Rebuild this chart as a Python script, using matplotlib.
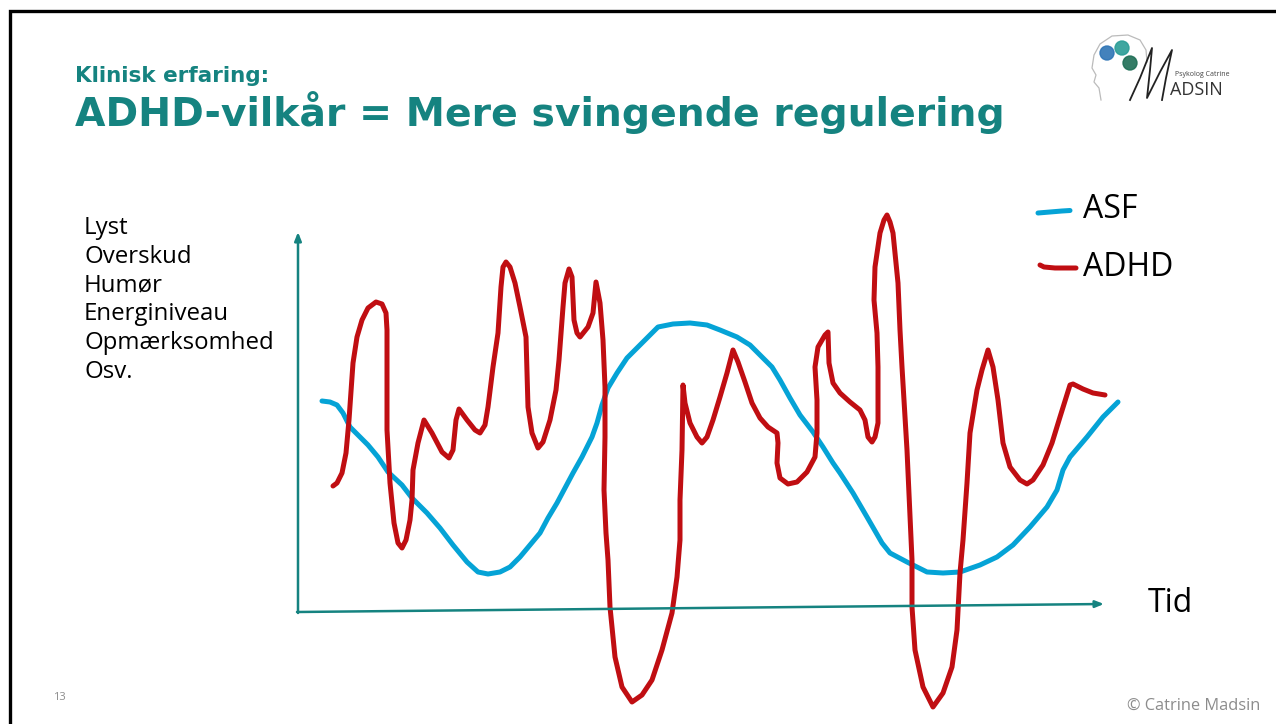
import matplotlib
matplotlib.use("Agg")
import matplotlib.pyplot as plt
from matplotlib.patches import Circle

# ---- data (hand-drawn curves; x = time, y = level (screen px)) ----
asf_x = [322, 330, 337, 343, 350, 360, 368, 378, 388, 402, 412, 427, 440, 453, 467, 478, 488, 500, 510, 520,
         530, 540, 548, 557, 565, 573, 582, 592, 597, 602, 608, 617, 627, 640, 658, 673, 690, 707, 720, 737,
         750, 760, 772, 780, 790, 800, 813, 823, 833, 840, 853, 867, 882, 890, 907, 917, 927, 943, 960, 980,
         997, 1013, 1030, 1047, 1057, 1063, 1070, 1087, 1103, 1118]
asf_y = [401, 402, 405, 413, 427, 437, 445, 457, 472, 485, 498, 513, 528, 545, 562, 572, 574, 572, 567, 557,
         545, 533, 518, 503, 488, 473, 457, 437, 423, 405, 388, 373, 358, 345, 327, 324, 323, 325, 330, 337,
         345, 355, 367, 380, 398, 415, 432, 447, 463, 473, 493, 517, 543, 553, 562, 567, 572, 573, 572, 565,
         557, 545, 527, 507, 490, 470, 457, 437, 417, 402]

adhd_x = [333, 337, 342, 346, 349, 353, 357, 362, 368, 376, 382, 386, 387, 387, 390, 394, 398, 402, 406, 410,
          412, 413, 418, 424, 432, 442, 449, 453, 456, 459, 467, 475, 480, 485, 488, 493, 498, 501, 503, 506,
          510, 515, 520, 526, 527, 528, 532, 538, 543, 550, 556, 559, 563, 565, 569, 572, 574, 577, 580, 588,
          593, 596, 600, 603, 605, 605, 604, 606, 608, 610, 615, 622, 632, 642, 652, 662, 672, 677, 680, 680,
          682, 683, 685, 690, 697, 702, 707, 713, 720, 727, 733, 738, 745, 752, 760, 768, 777, 778, 777, 780,
          788, 797, 807, 815, 817, 817, 815, 818, 825, 828, 829, 833, 840, 850, 860, 865, 868, 872, 875, 878,
          878, 877, 874, 875, 880, 884, 887, 890, 893, 898, 900, 902, 907, 910, 912, 912, 915, 923, 933, 943,
          952, 957, 960, 963, 967, 970, 977, 982, 988, 993, 998, 1003, 1010, 1020, 1027, 1033, 1043, 1052, 1060, 1070,
          1073, 1083, 1093, 1105]
adhd_y = [486, 483, 473, 453, 420, 363, 337, 320, 308, 302, 304, 313, 330, 430, 483, 523, 543, 548, 540, 520,
          500, 470, 443, 420, 433, 452, 458, 450, 420, 409, 420, 430, 433, 425, 407, 367, 333, 287, 267, 262,
          267, 283, 307, 337, 373, 407, 433, 448, 442, 420, 390, 360, 307, 283, 269, 277, 320, 333, 337, 327,
          313, 282, 303, 340, 387, 437, 490, 533, 560, 607, 657, 687, 702, 695, 680, 650, 613, 577, 540, 500,
          450, 385, 403, 423, 437, 443, 437, 420, 397, 373, 350, 362, 382, 403, 418, 427, 433, 443, 463, 478,
          484, 482, 472, 457, 433, 400, 367, 347, 335, 332, 363, 383, 393, 402, 410, 420, 437, 442, 437, 423,
          367, 333, 300, 267, 233, 220, 215, 222, 233, 283, 330, 367, 450, 517, 560, 607, 650, 687, 707, 693,
          667, 630, 573, 540, 483, 433, 390, 370, 350, 367, 400, 443, 467, 480, 484, 480, 465, 443, 417, 385,
          384, 389, 393, 395]

ylabel_lines = ["Lyst", "Overskud", "Humør", "Energiniveau", "Opmærksomhed", "Osv."]
legend_labels = ["ASF", "ADHD"]
subtitle = "Klinisk erfaring:"
title = "ADHD-vilkår = Mere svingende regulering"
x_label = "Tid"

TEAL = "#158380"
RED = "#C00E12"
BLUE = "#05A3D6"
GRAY = "#8C8C8C"

W, H = 1276, 724
fig = plt.figure(figsize=(W / 100, H / 100), dpi=100)
ax = fig.add_axes([0, 0, 1, 1])
ax.set_xlim(0, W)
ax.set_ylim(H, 0)
ax.axis("off")

# slide border (top and left)
ax.plot([10, 10, W], [H, 11, 11], color="black", lw=2.4, solid_joinstyle="miter")

# titles
ax.text(75, 82, subtitle, color=TEAL, fontsize=15.5, fontweight="bold", family="DejaVu Sans",
        va="baseline", ha="left")
t = ax.text(75, 126, title, color=TEAL, fontsize=30, fontweight="bold", family="DejaVu Sans",
            va="baseline", ha="left")
fig.canvas.draw()
bb = t.get_window_extent()
t.set_fontsize(30 * 930 / bb.width)

# y-axis description
for i, s in enumerate(ylabel_lines):
    ax.text(84, 228 + i * 28.8, s, fontsize=17.3, family="Open Sans", color="black",
            va="center", ha="left")

# axes arrows
ax.annotate("", xy=(298, 232), xytext=(298, 613),
            arrowprops=dict(arrowstyle="-|>,head_length=0.5,head_width=0.2", color=TEAL, lw=1.8,
                            shrinkA=0, shrinkB=0))
ax.annotate("", xy=(1104, 604), xytext=(297, 612),
            arrowprops=dict(arrowstyle="-|>,head_length=0.5,head_width=0.2", color=TEAL, lw=1.8,
                            shrinkA=0, shrinkB=0))
ax.text(1148, 604, x_label, fontsize=23, family="Open Sans", va="center", ha="left")

# curves
ax.plot(asf_x, asf_y, color=BLUE, lw=3.6, solid_capstyle="round", solid_joinstyle="round")
ax.plot(adhd_x, adhd_y, color=RED, lw=3.6, solid_capstyle="round", solid_joinstyle="round")

# legend
ax.plot([1038, 1050, 1062, 1070], [213, 212, 211, 210.5], color=BLUE, lw=3.6, solid_capstyle="round")
ax.plot([1040, 1044, 1055, 1076], [265, 267, 268, 268], color=RED, lw=3.6, solid_capstyle="round")
ax.text(1083, 209, legend_labels[0], fontsize=23, family="Open Sans", va="center", ha="left")
ax.text(1083, 267, legend_labels[1], fontsize=23, family="Open Sans", va="center", ha="left")

# footer
ax.text(53, 698, "13", fontsize=8, color=GRAY, family="Open Sans", va="center", ha="left")
ax.text(1260, 706, "© Catrine Madsin", fontsize=11.8, color=GRAY, family="Open Sans",
        va="center", ha="right")

# logo (approximation)
ax.plot([1101, 1099, 1094, 1096, 1092, 1094, 1100, 1112, 1128, 1140, 1146, 1147],
        [100, 88, 82, 75, 68, 55, 44, 36, 35, 40, 50, 62], color="#BBBBBB", lw=0.9)
ax.add_patch(Circle((1107, 53), 7, color="#2E74B5", alpha=0.9))
ax.add_patch(Circle((1122, 48), 7, color="#2A9D96", alpha=0.9))
ax.add_patch(Circle((1130, 63), 7, color="#1E6E55", alpha=0.9))
ax.plot([1130, 1140, 1152, 1150, 1147, 1160, 1172, 1166, 1162],
        [100, 78, 48, 70, 98, 72, 50, 78, 100], color="#222222", lw=1.3,
        solid_joinstyle="round")
ax.text(1175, 74, "Psykolog Catrine", fontsize=5, color="#444444", family="Open Sans",
        va="center", ha="left")
ax.text(1170, 90, "ADSIN", fontsize=13, color="#333333", family="Open Sans", va="center", ha="left")

fig.savefig("out.png", dpi=100)
